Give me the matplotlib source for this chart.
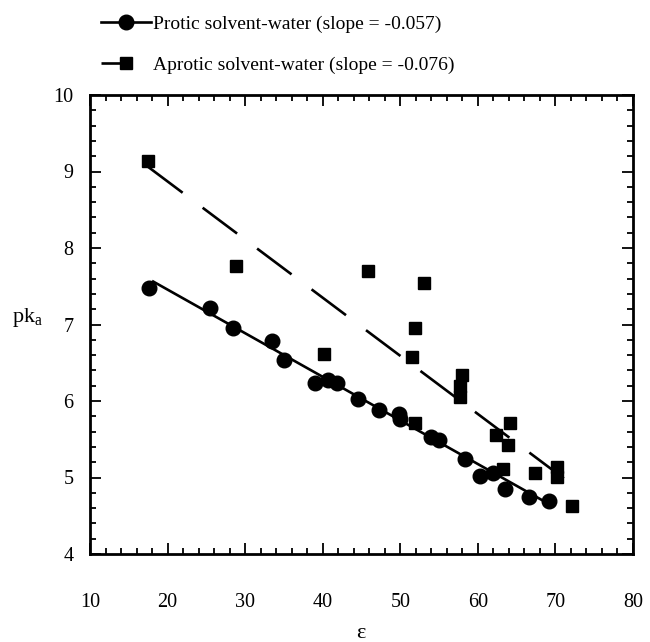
import matplotlib
matplotlib.use("Agg")
import matplotlib.pyplot as plt
from matplotlib.lines import Line2D
from matplotlib.ticker import MultipleLocator
import numpy as np

plt.rcParams['font.family'] = ['Liberation Serif', 'DejaVu Serif']
plt.rcParams['mathtext.fontset'] = 'custom'
plt.rcParams['mathtext.rm'] = 'Liberation Serif'
plt.rcParams['mathtext.it'] = 'Liberation Serif'
plt.rcParams['lines.scale_dashes'] = False

# protic solvent-water data (circles)
protic_eps = [17.6, 25.5, 28.4, 33.4, 35.0, 39.0, 40.7, 41.9, 44.5, 47.3,
              49.8, 50.0, 54.0, 55.0, 58.3, 60.3, 62.0, 63.5, 66.6, 69.2]
protic_pka = [7.48, 7.22, 6.96, 6.78, 6.53, 6.24, 6.28, 6.24, 6.02, 5.88,
              5.83, 5.76, 5.53, 5.49, 5.24, 5.02, 5.06, 4.85, 4.74, 4.69]

# aprotic solvent-water data (squares)
aprotic_eps = [17.5, 28.8, 40.2, 45.8, 53.0, 51.9, 51.5, 51.9, 58.0, 57.7,
               57.7, 64.2, 62.4, 63.9, 63.2, 67.4, 70.2, 70.2, 72.2]
aprotic_pka = [9.14, 7.77, 6.61, 7.70, 7.54, 6.95, 6.57, 5.71, 6.34, 6.20,
               6.05, 5.71, 5.56, 5.43, 5.11, 5.06, 5.14, 5.01, 4.63]

# fitted lines: intercept, slope, x range
protic_fit = (8.596, -0.057, 18.0, 69.0)
aprotic_fit = (10.39, -0.076, 17.5, 72.2)

protic_label = "Protic solvent-water (slope = -0.057)"
aprotic_label = "Aprotic solvent-water (slope = -0.076)"

W, H = 650, 642
fig = plt.figure(figsize=(W / 100, H / 100), dpi=100)
ax = fig.add_axes([90 / W, 1 - 554 / H, (633 - 90) / W, (554 - 95) / H])

# fit lines
b, m, x0, x1 = protic_fit
xs = np.array([x0, x1])
ax.plot(xs, b + m * xs, color='black', lw=1.9, solid_capstyle='butt')
b, m, x0, x1 = aprotic_fit
xs = np.array([x0, x1])
ax.plot(xs, b + m * xs, color='black', lw=1.9, dashes=(31, 18), dash_capstyle='butt')

# data points
ax.plot(protic_eps, protic_pka, 'o', color='black', ms=10.5, mec='black')
ax.plot(aprotic_eps, aprotic_pka, 's', color='black', ms=8, mec='black')

ax.set_xlim(10, 80)
ax.set_ylim(4, 10)
ax.xaxis.set_major_locator(MultipleLocator(10))
ax.xaxis.set_minor_locator(MultipleLocator(2))
ax.yaxis.set_major_locator(MultipleLocator(1))
ax.yaxis.set_minor_locator(MultipleLocator(0.2))
ax.tick_params(which='both', direction='in', top=True, right=True, width=1.3, labelsize=14.5)
ax.tick_params(which='major', length=8)
ax.tick_params(which='minor', length=4)
ax.tick_params(axis='x', pad=28)
ax.tick_params(axis='y', pad=12)
for sp in ax.spines.values():
    sp.set_linewidth(2.0)

fig.text(12 / W, 1 - 318 / H, r"pk$_\mathrm{a}$", fontsize=16, ha='left', va='center')
fig.text(361 / W, 1 - 634 / H, "ε", fontsize=16, ha='center', va='center')

# legend above the axes
h1 = Line2D([], [], color='black', lw=1.9, marker='o', ms=10.5)
h2 = Line2D([], [], color='black', lw=1.9, marker='s', ms=8, dashes=(16, 40))
fig.legend([h1, h2], [protic_label, aprotic_label], loc='upper left',
           bbox_to_anchor=(83 / W, 1 + 2 / H), frameon=False, fontsize=14,
           handlelength=2.6, handletextpad=0.1, labelspacing=1.2)

fig.savefig("out.png", dpi=100)
